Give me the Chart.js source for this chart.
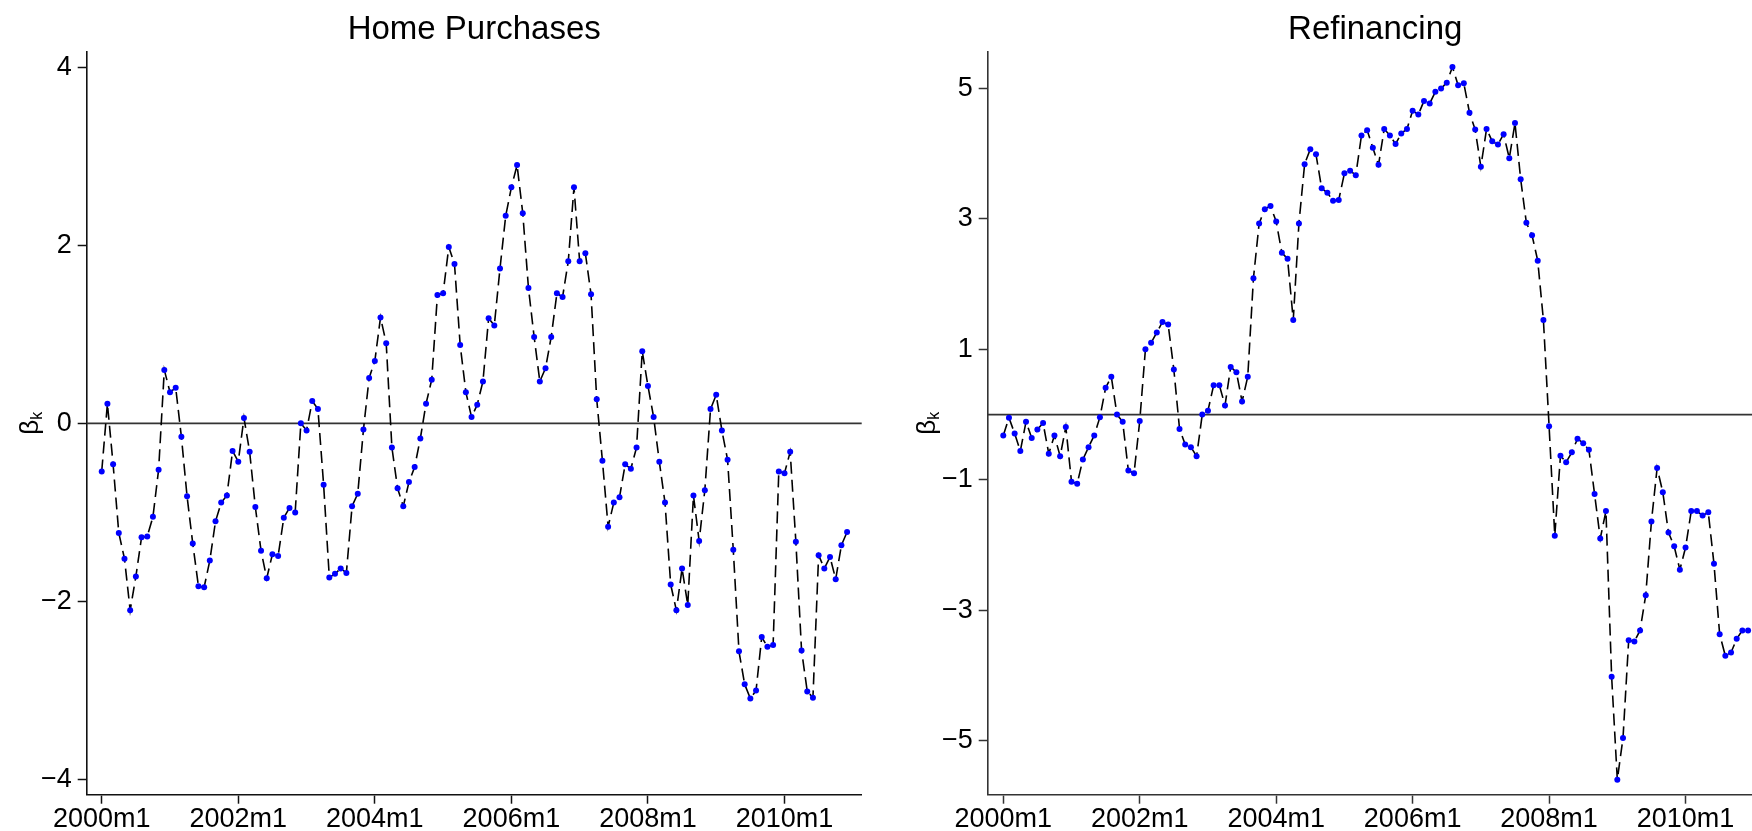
<!DOCTYPE html>
<html>
<head>
<meta charset="utf-8">
<script src="https://cdn.jsdelivr.net/npm/chart.js@4.4.1/dist/chart.umd.min.js"></script>
<style>
  html, body { margin: 0; padding: 0; background: #fff; overflow: hidden; }
  body { width: 1752px; height: 831px; position: relative; }
  canvas { position: absolute; top: 0; }
  #purchases-chart { left: 0; }
  #refi-chart { left: 900px; }
</style>
</head>
<body>
<canvas id="purchases-chart" width="876" height="831"></canvas>
<canvas id="refi-chart" width="880" height="831"></canvas>
<script>
// monthly categories, 2000m1 .. 2010m12
const months = [];
for (let y = 2000; y <= 2010; y++) {
  for (let m = 1; m <= 12; m++) months.push(y + "m" + m);
}

const xTickLabels = ["2000m1", "2002m1", "2004m1", "2006m1", "2008m1", "2010m1"];

const purchasesTicks = [-4, -2, 0, 2, 4];
const purchasesTickLabels = ["\u22124", "\u22122", "0", "2", "4"];
const refiTicks = [-5, -3, -1, 1, 3, 5];
const refiTickLabels = ["\u22125", "\u22123", "\u22121", "1", "3", "5"];

const purchases = [
  -0.54, 0.22, -0.46, -1.23, -1.52, -2.10, -1.72, -1.28, -1.27, -1.05, -0.52, 0.60,
  0.35, 0.40, -0.15, -0.82, -1.35, -1.83, -1.84, -1.54, -1.10, -0.89, -0.81, -0.31,
  -0.43, 0.06, -0.32, -0.94, -1.43, -1.74, -1.47, -1.49, -1.06, -0.95, -1.00, 0.00,
  -0.08, 0.25, 0.16, -0.69, -1.73, -1.69, -1.63, -1.68, -0.93, -0.79, -0.07, 0.51,
  0.70, 1.19, 0.90, -0.27, -0.73, -0.93, -0.66, -0.49, -0.17, 0.22, 0.49, 1.44,
  1.46, 1.98, 1.79, 0.88, 0.35, 0.07, 0.21, 0.47, 1.18, 1.10, 1.74, 2.33,
  2.65, 2.90, 2.36, 1.52, 0.97, 0.47, 0.62, 0.97, 1.46, 1.42, 1.82, 2.65,
  1.82, 1.91, 1.45, 0.27, -0.42, -1.16, -0.89, -0.83, -0.46, -0.51, -0.27, 0.81,
  0.42, 0.07, -0.43, -0.89, -1.81, -2.10, -1.63, -2.04, -0.81, -1.32, -0.75, 0.16,
  0.32, -0.08, -0.41, -1.42, -2.56, -2.93, -3.09, -3.00, -2.40, -2.51, -2.49, -0.54,
  -0.56, -0.32, -1.33, -2.55, -3.01, -3.08, -1.48, -1.63, -1.50, -1.75, -1.37, -1.22
];

const refinancing = [
  -0.32, -0.05, -0.29, -0.56, -0.11, -0.36, -0.23, -0.13, -0.60, -0.32, -0.64, -0.19,
  -1.03, -1.06, -0.69, -0.50, -0.32, -0.04, 0.41, 0.58, 0.00, -0.11, -0.86, -0.90,
  -0.10, 1.00, 1.10, 1.26, 1.42, 1.38, 0.69, -0.22, -0.46, -0.50, -0.64, 0.00,
  0.06, 0.45, 0.45, 0.14, 0.73, 0.65, 0.20, 0.58, 2.09, 2.93, 3.15, 3.20,
  2.96, 2.48, 2.39, 1.45, 2.93, 3.84, 4.07, 3.99, 3.47, 3.40, 3.28, 3.29,
  3.70, 3.74, 3.67, 4.28, 4.36, 4.09, 3.83, 4.38, 4.28, 4.15, 4.31, 4.38,
  4.66, 4.60, 4.81, 4.77, 4.95, 5.00, 5.09, 5.33, 5.05, 5.08, 4.63, 4.37,
  3.80, 4.38, 4.19, 4.14, 4.30, 3.93, 4.47, 3.61, 2.94, 2.75, 2.36, 1.45,
  -0.18, -1.86, -0.63, -0.73, -0.58, -0.37, -0.44, -0.54, -1.22, -1.90, -1.48, -4.02,
  -5.60, -4.96, -3.46, -3.48, -3.31, -2.77, -1.64, -0.82, -1.19, -1.81, -2.02, -2.38,
  -2.04, -1.48, -1.48, -1.55, -1.50, -2.29, -3.37, -3.70, -3.65, -3.44, -3.31, -3.31
];

const FONT = "'Liberation Sans', Arial, Helvetica, sans-serif";

const zeroLine = {
  id: "zeroLine",
  beforeDatasetsDraw(chart) {
    const { ctx, chartArea, scales } = chart;
    const y = scales.y.getPixelForValue(0);
    ctx.save();
    ctx.strokeStyle = "#333";
    ctx.lineWidth = 1.8;
    ctx.beginPath();
    ctx.moveTo(chartArea.left, y);
    ctx.lineTo(chartArea.right, y);
    ctx.stroke();
    ctx.restore();
  }
};

const panelText = {
  id: "panelText",
  afterDraw(chart, args, opts) {
    const { ctx, chartArea } = chart;
    ctx.save();
    ctx.fillStyle = "#000";
    ctx.font = "33px " + FONT;
    ctx.textAlign = "center";
    ctx.textBaseline = "middle";
    ctx.fillText(opts.title, (chartArea.left + chartArea.right) / 2, 30);

    // beta with subscript k, rotated
    ctx.translate(opts.labelX, (chartArea.top + chartArea.bottom) / 2);
    ctx.rotate(-Math.PI / 2);
    ctx.textAlign = "left";
    ctx.textBaseline = "alphabetic";
    ctx.font = "26px " + FONT;
    const wb = ctx.measureText("\u03b2").width;
    ctx.font = "16px " + FONT;
    const wk = ctx.measureText("k").width;
    const x0 = -(wb + wk) / 2;
    ctx.font = "26px " + FONT;
    ctx.fillText("\u03b2", x0, 8);
    ctx.font = "16px " + FONT;
    ctx.fillText("k", x0 + wb, 12);
    ctx.restore();
  }
};

function makeChart(id, values, cfg) {
  const points = values.map((v, i) => ({ x: i, y: v }));
  const xTickPos = xTickLabels.map(l => months.indexOf(l));

  return new Chart(document.getElementById(id), {
    type: "line",
    data: {
      datasets: [{
        data: points,
        borderColor: "#000",
        borderWidth: 1.6,
        borderDash: [12, 6],
        tension: 0,
        pointRadius: 3,
        pointBorderWidth: 0,
        pointBackgroundColor: "#0000ff"
      }]
    },
    options: {
      responsive: false,
      animation: false,
      layout: { padding: { top: 52, right: cfg.padRight, left: 0, bottom: 0 } },
      plugins: {
        legend: { display: false },
        tooltip: { enabled: false },
        panelText: { title: cfg.title, labelX: cfg.labelX }
      },
      scales: {
        x: {
          type: "linear",
          min: cfg.xMin,
          max: 133.57,
          afterBuildTicks: s => { s.ticks = xTickPos.map(v => ({ value: v })); },
          afterFit: s => { s.height = 36.3; },
          ticks: {
            autoSkip: false,
            maxRotation: 0,
            padding: 0,
            color: "#000",
            font: { family: FONT, size: 27 },
            callback: (v, i) => xTickLabels[i]
          },
          grid: { drawOnChartArea: false, tickLength: 9, tickColor: cfg.axisColor, tickWidth: 1.5 },
          border: { display: true, color: cfg.axisColor, width: 1.6 }
        },
        y: {
          min: cfg.yMin,
          max: cfg.yMax,
          afterBuildTicks: s => { s.ticks = cfg.yTicks.map(v => ({ value: v })); },
          afterFit: s => { s.width = cfg.axisWidth; },
          ticks: {
            padding: 6,
            color: "#000",
            font: { family: FONT, size: 27 },
            callback: (v, i) => cfg.yTickLabels[i]
          },
          grid: { drawOnChartArea: false, tickLength: 9, tickColor: cfg.axisColor, tickWidth: 1.5 },
          border: { display: true, color: cfg.axisColor, width: 1.6 }
        }
      }
    },
    plugins: [zeroLine, panelText]
  });
}

makeChart("purchases-chart", purchases, {
  title: "Home Purchases",
  labelX: 30,
  padRight: 14.3,
  axisWidth: 86.7,
  axisColor: "#111",
  xMin: -2.64,
  yMin: -4.17,
  yMax: 4.17,
  yTicks: purchasesTicks,
  yTickLabels: purchasesTickLabels
});

makeChart("refi-chart", refinancing, {
  title: "Refinancing",
  labelX: 27,
  padRight: 17.3,
  axisWidth: 87.7,
  axisColor: "#333",
  xMin: -2.74,
  yMin: -5.83,
  yMax: 5.56,
  yTicks: refiTicks,
  yTickLabels: refiTickLabels
});
</script>
</body>
</html>
